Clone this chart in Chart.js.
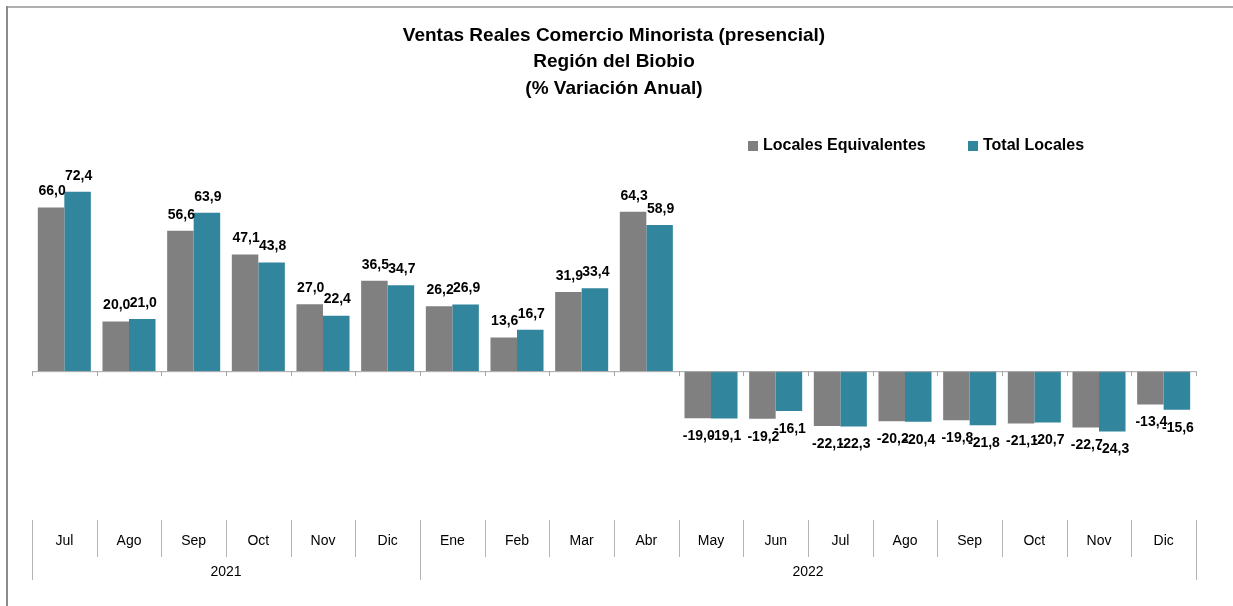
<!DOCTYPE html>
<html lang="es">
<head>
    <meta charset="UTF-8">
    <title>Ventas Reales Comercio Minorista - Región del Biobio</title>
    <style>
        html, body {
            margin: 0;
            padding: 0;
            background: #ffffff;
        }
        #wrap {
            width: 1233px;
            height: 606px;
        }
    </style>
</head>
<body>
    <div id="wrap">
        <canvas id="ventasChart" width="1233" height="606"></canvas>
    </div>
    <script src="https://cdn.jsdelivr.net/npm/chart.js"></script>
    <script>
        // months and the year each one belongs to
        const months = ['Jul', 'Ago', 'Sep', 'Oct', 'Nov', 'Dic', 'Ene', 'Feb', 'Mar', 'Abr', 'May', 'Jun', 'Jul', 'Ago', 'Sep', 'Oct', 'Nov', 'Dic'];
        const years = ['2021', '2022'];
        const monthsPerYear = [6, 12];

        const localesEquivalentes = [66.0, 20.0, 56.6, 47.1, 27.0, 36.5, 26.2, 13.6, 31.9, 64.3, -19.0, -19.2, -22.1, -20.2, -19.8, -21.1, -22.7, -13.4];
        const totalLocales = [72.4, 21.0, 63.9, 43.8, 22.4, 34.7, 26.9, 16.7, 33.4, 58.9, -19.1, -16.1, -22.3, -20.4, -21.8, -20.7, -24.3, -15.6];

        const titleLines = ['Ventas Reales Comercio Minorista (presencial)', 'Región del Biobio', '(% Variación Anual)'];

        const gray = '#808080';
        const teal = '#31859C';
        const lineGray = '#b4b4b4';
        const fontFamily = "'Liberation Sans', Arial, sans-serif";

        // frame around the chart (top and left only, like the original)
        const framePlugin = {
            id: 'frame',
            beforeDraw(chart) {
                const ctx = chart.ctx;
                ctx.save();
                ctx.fillStyle = '#ffffff';
                ctx.fillRect(0, 0, chart.width, chart.height);
                ctx.fillStyle = '#b0b0b0';
                ctx.fillRect(6, 6, chart.width - 6, 2);
                ctx.fillStyle = '#8c8c8c';
                ctx.fillRect(6, 6, 2, chart.height - 6);
                ctx.restore();
            }
        };

        // zero line with small tick marks, value labels, year row, separators
        const decorPlugin = {
            id: 'decor',
            afterDatasetsDraw(chart) {
                const ctx = chart.ctx;
                const y = chart.scales.y;
                const area = chart.chartArea;
                const step = (area.right - area.left) / months.length;
                const zeroY = y.getPixelForValue(0);

                ctx.save();
                // zero axis
                ctx.strokeStyle = '#a6a6a6';
                ctx.lineWidth = 1;
                ctx.beginPath();
                ctx.moveTo(area.left, zeroY + 0.5);
                ctx.lineTo(area.right, zeroY + 0.5);
                for (let i = 0; i <= months.length; i++) {
                    const px = Math.round(area.left + i * step) + 0.5;
                    ctx.moveTo(px, zeroY);
                    ctx.lineTo(px, zeroY + 5);
                }
                ctx.stroke();

                // value labels
                ctx.fillStyle = '#000000';
                ctx.font = 'bold 14px ' + fontFamily;
                ctx.textAlign = 'center';
                ctx.textBaseline = 'middle';
                chart.data.datasets.forEach((ds, di) => {
                    const meta = chart.getDatasetMeta(di);
                    meta.data.forEach((bar, i) => {
                        const v = ds.data[i];
                        const txt = v.toFixed(1).replace('.', ',');
                        const ly = v >= 0 ? bar.y - 16 : bar.y + 18;
                        ctx.fillText(txt, bar.x + 1, ly);
                    });
                });

                // category separators
                const sepTop = 520;
                const sepMid = 557;
                const sepBottom = 580;
                const edges = [0];
                let acc = 0;
                monthsPerYear.forEach(n => { acc += n; edges.push(acc); });
                ctx.strokeStyle = lineGray;
                ctx.beginPath();
                for (let i = 0; i <= months.length; i++) {
                    const px = Math.round(area.left + i * step) + 0.5;
                    const isEdge = edges.indexOf(i) !== -1;
                    ctx.moveTo(px, sepTop);
                    ctx.lineTo(px, isEdge ? sepBottom : sepMid);
                }
                ctx.stroke();

                // year labels
                ctx.font = '14px ' + fontFamily;
                ctx.fillStyle = '#000000';
                years.forEach((yr, k) => {
                    const cx = area.left + (edges[k] + edges[k + 1]) / 2 * step;
                    ctx.fillText(yr, cx, 572);
                });

                // legend
                ctx.font = 'bold 16px ' + fontFamily;
                ctx.textAlign = 'left';
                const legendY = 146;
                const legendItems = [
                    { x: 748, ds: chart.data.datasets[0] },
                    { x: 968, ds: chart.data.datasets[1] }
                ];
                legendItems.forEach(item => {
                    ctx.fillStyle = item.ds.backgroundColor;
                    ctx.fillRect(item.x, legendY - 5, 10, 10);
                    ctx.fillStyle = '#000000';
                    ctx.fillText(item.ds.label, item.x + 15, legendY);
                });
                ctx.restore();
            }
        };

        new Chart(document.getElementById('ventasChart'), {
            type: 'bar',
            data: {
                labels: months,
                datasets: [
                    {
                        label: 'Locales Equivalentes',
                        data: localesEquivalentes,
                        backgroundColor: gray,
                        borderWidth: 0
                    },
                    {
                        label: 'Total Locales',
                        data: totalLocales,
                        backgroundColor: teal,
                        borderWidth: 0
                    }
                ]
            },
            options: {
                responsive: false,
                animation: false,
                layout: {
                    padding: { left: 32, right: 37, top: 0, bottom: 0 }
                },
                categoryPercentage: 0.82,
                barPercentage: 1.0,
                plugins: {
                    legend: { display: false },
                    tooltip: { enabled: false },
                    title: {
                        display: true,
                        text: titleLines,
                        color: '#000000',
                        font: { family: fontFamily, size: 19, weight: 'bold', lineHeight: 1.4 },
                        padding: { top: 22, bottom: 71 }
                    }
                },
                scales: {
                    x: {
                        grid: { display: false },
                        border: { display: false },
                        ticks: {
                            color: '#000000',
                            font: { family: fontFamily, size: 14 },
                            padding: 10,
                            maxRotation: 0,
                            autoSkip: false
                        },
                        afterFit(scale) {
                            scale.height = 91;
                        }
                    },
                    y: {
                        display: false,
                        min: -58,
                        max: 80
                    }
                }
            },
            plugins: [framePlugin, decorPlugin]
        });
    </script>
</body>
</html>
